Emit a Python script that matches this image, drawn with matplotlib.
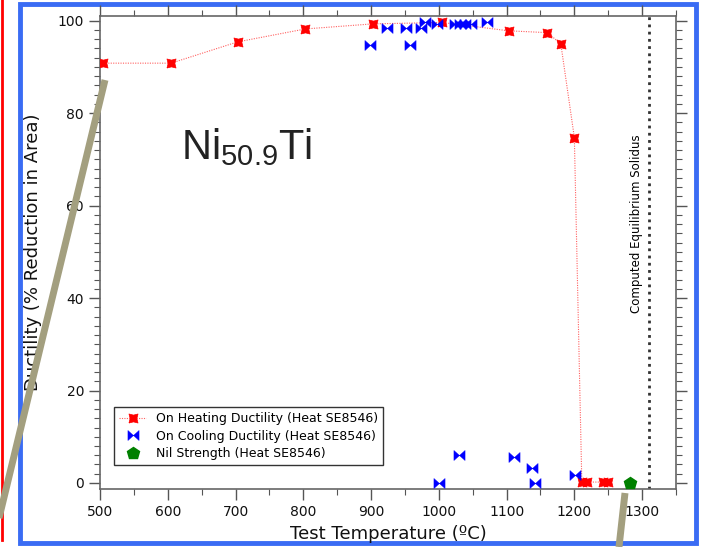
import numpy as np
import matplotlib
matplotlib.use("Agg")
import matplotlib.pyplot as plt
from matplotlib.path import Path
from matplotlib.lines import Line2D
from matplotlib.patches import Rectangle
from matplotlib.ticker import MultipleLocator

# On-heating ductility, heat SE8546
heat_T = [505, 605, 703, 803, 903, 1005, 1103, 1160, 1180, 1200, 1211, 1219, 1242, 1250]
heat_RA = [90.8, 90.8, 95.4, 98.2, 99.3, 99.6, 97.8, 97.4, 95.0, 74.7, 0.3, 0.2, 0.2, 0.2]

# On-cooling ductility, heat SE8546
cool_T = [898, 924, 951, 957, 974, 980, 998, 1024, 1031, 1039, 1048, 1071,
          1000, 1030, 1111, 1137, 1142, 1201]
cool_RA = [94.7, 98.3, 98.3, 94.7, 98.3, 99.6, 99.2, 99.2, 99.2, 99.2, 99.2, 99.6,
           0.0, 6.1, 5.6, 3.3, 0.0, 1.7]

# Nil strength temperature
nil_T = [1282]
nil_RA = [0.0]

solidus_T = 1310

# marker shapes
pinched_square = Path([(-1, -1), (0, -0.75), (1, -1), (0.75, 0), (1, 1), (0, 0.75),
                       (-1, 1), (-0.75, 0), (-1, -1)])
bowtie = Path([(-1, -0.9), (0, 0), (-1, 0.9), (-1, -0.9),
               (1, -0.9), (0, 0), (1, 0.9), (1, -0.9)],
              [Path.MOVETO, Path.LINETO, Path.LINETO, Path.CLOSEPOLY,
               Path.MOVETO, Path.LINETO, Path.LINETO, Path.CLOSEPOLY])

plt.rcParams['font.family'] = ['DejaVu Sans']

fig = plt.figure(figsize=(7.02, 5.47), dpi=100)
ax = fig.add_axes([100 / 702, 1 - 489 / 547, 576 / 702, 473 / 547])

ax.plot(heat_T, heat_RA, color='#ff6060', linestyle=(0, (1, 1.2)), linewidth=0.8,
        marker=pinched_square, markersize=6.5, markerfacecolor='red', markeredgecolor='red',
        markeredgewidth=0.5, label='On Heating Ductility (Heat SE8546)', zorder=3)
ax.plot(cool_T, cool_RA, linestyle='none', marker=bowtie, markersize=8,
        markerfacecolor='blue', markeredgecolor='blue', markeredgewidth=0.3,
        label='On Cooling Ductility (Heat SE8546)', zorder=4)
ax.plot(nil_T, nil_RA, linestyle='none', marker='p', markersize=9,
        color='green', label='Nil Strength (Heat SE8546)', zorder=4)

ax.axvline(solidus_T, color='#333333', linestyle=(0, (1, 1.6)), linewidth=2.0, zorder=2)
ax.text(solidus_T - 8, 56, 'Computed Equilibrium Solidus', rotation=90,
        ha='right', va='center', fontsize=8.5, color='black')

ax.text(620, 70, 'Ni$_{\\mathregular{50.9}}$Ti', fontsize=30,
        family='Liberation Sans', color='#222222', ha='left', va='baseline')

ax.set_xlim(500, 1350)
ax.set_ylim(-1.3, 101)
ax.xaxis.set_major_locator(MultipleLocator(100))
ax.xaxis.set_minor_locator(MultipleLocator(50))
ax.yaxis.set_major_locator(MultipleLocator(20))
ax.yaxis.set_minor_locator(MultipleLocator(2))
ax.set_xticks([t for t in range(500, 1301, 100)])
ax.tick_params(which='both', direction='out', top=True, right=True,
               color='#555555', labelsize=10, labelcolor='#111111')
ax.tick_params(which='major', length=8, width=1)
ax.tick_params(which='minor', length=4, width=0.8)
for s in ax.spines.values():
    s.set_color('#666666')
    s.set_linewidth(1.2)

ax.set_xlabel('Test Temperature (ºC)', fontsize=13, labelpad=4, color='#111111')
ax.set_ylabel('Ductility (% Reduction in Area)', fontsize=13, labelpad=11, color='#111111')

leg = ax.legend(loc='lower left', bbox_to_anchor=(0.024, 0.051), borderaxespad=0,
                fontsize=9, frameon=True, fancybox=False, edgecolor='black',
                borderpad=0.4, handlelength=2.2, labelspacing=0.35, handletextpad=0.8)
leg.get_frame().set_linewidth(1.0)

# slide decorations: blue frame, red edge, callout strokes
fig.add_artist(Rectangle((20 / 702, 4 / 547), 676 / 702, 539 / 547,
                         transform=fig.transFigure, fill=False,
                         edgecolor='#3a6cf4', linewidth=3.5, zorder=0))
fig.add_artist(Line2D([2 / 702, 2 / 702], [1, 1 - 540 / 547],
                      transform=fig.transFigure, color='red', linewidth=2))
fig.add_artist(Line2D([105 / 702, -8 / 702], [1 - 80 / 547, 1 - 547 / 547],
                      transform=fig.transFigure, color='#a39f7f', linewidth=5,
                      solid_capstyle='butt', zorder=10))
fig.add_artist(Line2D([625 / 702, 619 / 702], [1 - 493 / 547, 0],
                      transform=fig.transFigure, color='#a39f7f', linewidth=5,
                      solid_capstyle='butt', zorder=10))

fig.savefig('out.png', dpi=100)
